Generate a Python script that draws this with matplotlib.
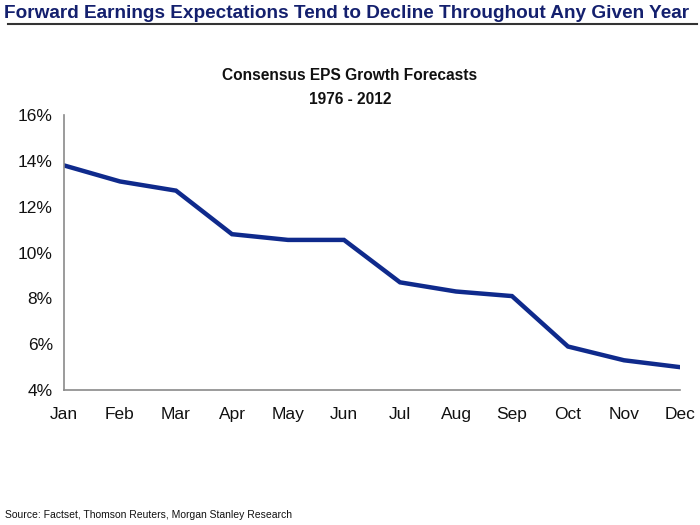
import matplotlib
matplotlib.use('Agg')
import matplotlib.pyplot as plt
from matplotlib.ticker import FuncFormatter

months = ['Jan', 'Feb', 'Mar', 'Apr', 'May', 'Jun',
          'Jul', 'Aug', 'Sep', 'Oct', 'Nov', 'Dec']
eps_growth = [13.8, 13.1, 12.7, 10.8, 10.55, 10.55,
              8.7, 8.3, 8.1, 5.9, 5.3, 5.0]

plt.rcParams['font.family'] = ['Liberation Sans', 'DejaVu Sans']

fig = plt.figure(figsize=(7, 5.25), dpi=100, facecolor='white')

# header
fig.text(0.006, 0.974, 'Forward Earnings Expectations Tend to Decline Throughout Any Given Year',
         ha='left', va='center', fontsize=13.7, fontweight='bold', color='#14206e')
fig.add_artist(plt.Line2D([0.012, 0.995], [0.955, 0.955], color='#333333', lw=1.5))

ax = fig.add_axes([0.0914, 0.257, 0.880, 0.524])
ax.plot(range(len(months)), eps_growth, color='#0f2a8c', lw=3.2, solid_joinstyle='miter')

ax.set_xlim(0, len(months) - 1)
ax.set_ylim(4, 16)
ax.set_yticks([4, 6, 8, 10, 12, 14, 16])
ax.yaxis.set_major_formatter(FuncFormatter(lambda v, _: f'{int(v)}%'))
ax.set_xticks(range(len(months)))
ax.set_xticklabels(months)
ax.tick_params(length=0, labelsize=12.5, colors='#111111', pad=8)
ax.tick_params(axis='x', pad=12)

for s in ['top', 'right']:
    ax.spines[s].set_visible(False)
for s in ['left', 'bottom']:
    ax.spines[s].set_color('#8a8a8a')
    ax.spines[s].set_linewidth(1.2)

fig.text(0.5, 0.834, 'Consensus EPS Growth Forecasts\n1976 - 2012', ha='center', va='center',
         fontsize=11.2, fontweight='bold', color='#111111', linespacing=1.75)

fig.text(0.007, 0.019, 'Source: Factset, Thomson Reuters, Morgan Stanley Research',
         ha='left', va='center', fontsize=7.5, color='#111111')

fig.savefig('out.png', dpi=100, facecolor='white')
